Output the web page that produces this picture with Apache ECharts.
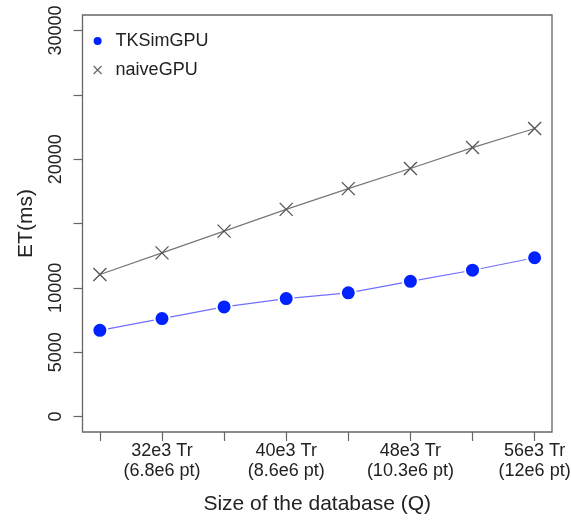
<!DOCTYPE html>
<html>
<head>
<meta charset="utf-8">
<script src="https://cdn.jsdelivr.net/npm/echarts@6/dist/echarts.min.js"></script>
<style>
  html, body { margin: 0; padding: 0; background: #fff; }
  #chart { width: 571px; height: 520px; }
</style>
</head>
<body>
<div id="chart"></div>
<script>
// database size in thousands of trajectories
const sizes = [28, 32, 36, 40, 44, 48, 52, 56];
const tkSimGpu = [6700, 7610, 8520, 9170, 9610, 10510, 11370, 12340];
const naiveGpu = [11040, 12720, 14410, 16100, 17710, 19270, 20900, 22380];

const xLabelValues = [32, 40, 48, 56];
const xLabelTexts = ["32e3 Tr\n(6.8e6 pt)", "40e3 Tr\n(8.6e6 pt)", "48e3 Tr\n(10.3e6 pt)", "56e3 Tr\n(12e6 pt)"];
const yTickValues = [0, 5000, 10000, 15000, 20000, 25000, 30000];
const yLabelValues = [0, 5000, 10000, 20000, 30000];

const textColor = "#222";
const frameColor = "#666";
const font = "Liberation Sans";

const chart = echarts.init(document.getElementById("chart"), null, { renderer: "canvas" });

chart.setOption({
  animation: false,
  backgroundColor: "#fff",
  textStyle: { fontFamily: font, color: textColor },
  grid: {
    left: 82.5,
    top: 15,
    right: 19,
    bottom: 88,
    show: true,
    borderColor: frameColor,
    borderWidth: 1.3,
    containLabel: false,
    outerBoundsMode: "none",
  },
  legend: {
    orient: "vertical",
    left: 88,
    top: 27,
    itemWidth: 8,
    itemHeight: 8,
    itemGap: 11,
    selectedMode: false,
    textStyle: { fontSize: 18, color: textColor, fontFamily: font, padding: [0, 0, 0, 9] },
    data: [
      { name: "TKSimGPU", icon: "circle", itemStyle: { color: "#0022ff", borderWidth: 0 } },
      {
        name: "naiveGPU",
        icon: "path://M0,0L10,10M10,0L0,10",
        itemStyle: { color: "transparent", borderColor: "#666", borderWidth: 1.2 },
      },
    ],
  },
  xAxis: {
    type: "value",
    min: 26.88,
    max: 57.12,
    name: "Size of the database (Q)",
    nameLocation: "middle",
    nameGap: 62,
    nameTextStyle: { fontSize: 21, color: textColor, fontFamily: font },
    axisLine: { show: false, onZero: false },
    axisTick: {
      show: true,
      length: 9,
      customValues: sizes,
      lineStyle: { color: frameColor, width: 1.2 },
    },
    axisLabel: {
      customValues: xLabelValues,
      margin: 9,
      fontSize: 18,
      lineHeight: 20,
      color: textColor,
      fontFamily: font,
      formatter: (v) => {
        const i = xLabelValues.indexOf(Math.round(v));
        return i >= 0 ? xLabelTexts[i] : "";
      },
    },
    splitLine: { show: false },
  },
  yAxis: {
    type: "value",
    min: -1200,
    max: 31200,
    name: "ET(ms)",
    nameLocation: "middle",
    nameGap: 46,
    nameTextStyle: { fontSize: 21, color: textColor, fontFamily: font },
    axisLine: { show: false, onZero: false },
    axisTick: {
      show: true,
      length: 9,
      customValues: yTickValues,
      lineStyle: { color: frameColor, width: 1.2 },
    },
    axisLabel: {
      customValues: yLabelValues,
      rotate: 90,
      margin: 17,
      fontSize: 18,
      color: textColor,
      fontFamily: font,
      formatter: (v) => String(v),
    },
    splitLine: { show: false },
  },
  series: [
    {
      name: "TKSimGPU",
      type: "line",
      symbol: "circle",
      symbolSize: 15,
      itemStyle: { color: "#0022ff", borderColor: "#fff", borderWidth: 2 },
      lineStyle: { color: "#7070ff", width: 1.2 },
      emphasis: { disabled: true },
      data: sizes.map((x, i) => [x, tkSimGpu[i]]),
      z: 3,
    },
    {
      name: "naiveGPU",
      type: "line",
      symbol: "path://M0,0L10,10M10,0L0,10",
      symbolSize: 13,
      itemStyle: { color: "#555", borderColor: "#555", borderWidth: 1.3 },
      lineStyle: { color: "#777", width: 1.2 },
      emphasis: { disabled: true },
      data: sizes.map((x, i) => [x, naiveGpu[i]]),
      z: 2,
    },
  ],
});
</script>
</body>
</html>
